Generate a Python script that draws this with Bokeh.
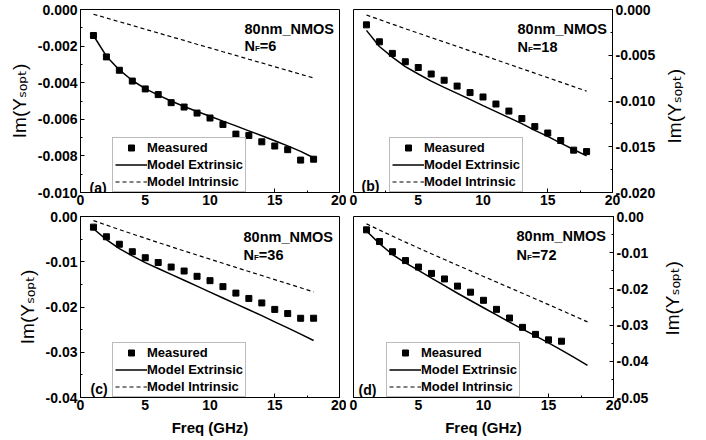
import math

from bokeh.core.properties import value
from bokeh.embed import file_html
from bokeh.layouts import column, row
from bokeh.models import (Label, Legend, LegendItem, NumeralTickFormatter,
                          Range1d, SingleIntervalTicker)
from bokeh.plotting import figure
from bokeh.resources import INLINE

FONT = "Liberation Sans"

# ---------------------------------------------------------------- data
freq = [1, 2, 3, 4, 5, 6, 7, 8, 9, 10, 11, 12, 13, 14, 15, 16, 17, 18]
freq_72 = [1, 2, 3, 4, 5, 6, 7, 8, 9, 10, 11, 12, 13, 14, 15, 16]

# NF = 6
meas_6 = [-0.00142, -0.00259, -0.00332, -0.00391, -0.00434, -0.00465,
          -0.00509, -0.00533, -0.00566, -0.00593, -0.00628, -0.00681,
          -0.00688, -0.00723, -0.00746, -0.00766, -0.00823, -0.00818]
ext_6 = [-0.00142, -0.00255, -0.00330, -0.00388, -0.00432, -0.00468,
         -0.00500, -0.00530, -0.00557, -0.00583, -0.00610, -0.00636,
         -0.00663, -0.00690, -0.00717, -0.00745, -0.00775, -0.00810]
int_6 = [-0.00026, -0.00046, -0.00067, -0.00087, -0.00108, -0.00128,
         -0.00149, -0.00169, -0.00190, -0.00210, -0.00231, -0.00251,
         -0.00272, -0.00292, -0.00313, -0.00333, -0.00354, -0.00374]

# NF = 18
meas_18 = [-0.00168, -0.00353, -0.00480, -0.00571, -0.00634, -0.00705,
           -0.00773, -0.00837, -0.00908, -0.00956, -0.01033, -0.01110,
           -0.01192, -0.01280, -0.01350, -0.01432, -0.01537, -0.01553]
ext_18 = [-0.00228, -0.00404, -0.00521, -0.00624, -0.00705, -0.00782,
          -0.00851, -0.00917, -0.00983, -0.01050, -0.01116, -0.01182,
          -0.01248, -0.01321, -0.01387, -0.01460, -0.01530, -0.01600]
int_18 = [-0.00060, -0.00110, -0.00160, -0.00210, -0.00258, -0.00307,
          -0.00355, -0.00403, -0.00452, -0.00500, -0.00549, -0.00598,
          -0.00647, -0.00696, -0.00745, -0.00794, -0.00843, -0.00892]

# NF = 36
meas_36 = [-0.00235, -0.00448, -0.00613, -0.00778, -0.00911, -0.01017,
           -0.01117, -0.01205, -0.01322, -0.01418, -0.01550, -0.01693,
           -0.01811, -0.01910, -0.02053, -0.02145, -0.02249, -0.02248]
ext_36 = [-0.0027, -0.0051, -0.0071, -0.0087, -0.0102, -0.0115,
          -0.0128, -0.0141, -0.0154, -0.0167, -0.0180, -0.0193,
          -0.0206, -0.0219, -0.0233, -0.0246, -0.0260, -0.0274]
int_36 = [-0.00090, -0.00190, -0.00288, -0.00385, -0.00480, -0.00575,
          -0.00668, -0.00760, -0.00852, -0.00943, -0.01034, -0.01125,
          -0.01215, -0.01305, -0.01395, -0.01485, -0.01575, -0.01665]

# NF = 72 (measured up to 16 GHz)
meas_72 = [-0.00369, -0.00692, -0.00973, -0.01218, -0.01397, -0.01572,
           -0.01725, -0.01923, -0.02090, -0.02315, -0.02565, -0.02805,
           -0.03062, -0.03256, -0.03408, -0.03445]
ext_72 = [-0.0040, -0.0075, -0.0105, -0.0128, -0.0149, -0.0170,
          -0.0191, -0.0212, -0.0232, -0.0252, -0.0272, -0.0292,
          -0.0311, -0.0330, -0.0349, -0.0369, -0.0390, -0.0411]
int_72 = [-0.00203, -0.00375, -0.00543, -0.00708, -0.00870, -0.01030,
          -0.01188, -0.01345, -0.01501, -0.01656, -0.01811, -0.01966,
          -0.02121, -0.02277, -0.02434, -0.02592, -0.02752, -0.02912]

device = "80nm_NMOS"
finger_counts = ["6", "18", "36", "72"]
panel_tags = ["(a)", "(b)", "(c)", "(d)"]
legend_labels = ["Measured", "Model Extrinsic", "Model Intrinsic"]
x_title = "Freq (GHz)"
y_title = "Im(Y\u209B\u2092\u209A\u209C)"

# Arial / Liberation Sans bold advance widths (per 1000 em)
BOLD_W = {"N": 722, "F": 611}
TITLE_FONT = FONT + ", DejaVu Sans"


def text_w(txt, size, table):
    return sum(table[c] for c in txt) * size / 1000.0


def add_label(p, text, x, y, size, bold=True, align="left"):
    p.add_layout(Label(x=x, y=y, x_units="screen", y_units="screen",
                       text=text, text_font=FONT, text_font_size=f"{size}px",
                       text_font_style="bold" if bold else "normal",
                       text_color="black", text_align=align,
                       text_baseline="alphabetic"))


def panel(cfg, meas_f, meas, ext, intr):
    w, h, bl, br, bt, bb = cfg["size"]
    p = figure(width=w, height=h, title=None, toolbar_location=None,
               output_backend="svg", x_range=Range1d(0, 20),
               y_range=Range1d(cfg["ymin"], 0), y_axis_location=cfg["side"],
               min_border_left=bl, min_border_right=br,
               min_border_top=bt, min_border_bottom=bb)
    p.outline_line_color = "black"
    p.outline_line_width = 1
    p.xgrid.visible = False
    p.ygrid.visible = False
    p.background_fill_color = "white"
    p.border_fill_color = "white"

    p.xaxis.ticker = SingleIntervalTicker(interval=5, num_minor_ticks=2)
    p.yaxis.ticker = SingleIntervalTicker(interval=cfg["ystep"], num_minor_ticks=2)
    p.yaxis.formatter = NumeralTickFormatter(format=cfg["yfmt"])
    for ax in (p.xaxis, p.yaxis):
        ax.axis_line_color = "black"
        ax.major_tick_line_color = "black"
        ax.minor_tick_line_color = "black"
        ax.major_tick_in = 4
        ax.major_tick_out = 0
        ax.minor_tick_in = 2
        ax.minor_tick_out = 0
        ax.major_label_text_font = FONT
        ax.major_label_text_font_style = "bold"
        ax.major_label_text_font_size = "14px"
        ax.major_label_text_color = "black"
    p.xaxis.major_label_standoff = 2
    p.yaxis.major_label_standoff = 3

    # y title on the left-hand panels goes on the axis itself
    if cfg["side"] == "left":
        yax = p.yaxis[0]
        yax.axis_label = y_title
        yax.axis_label_text_font = TITLE_FONT
        yax.axis_label_text_font_style = "normal"
        yax.axis_label_text_font_size = "19px"
        yax.axis_label_text_color = "black"
        yax.axis_label_standoff = 5

    # x title (bottom row only)
    if cfg.get("xtitle"):
        xax = p.xaxis[0]
        xax.axis_label = x_title
        xax.axis_label_text_font = FONT
        xax.axis_label_text_font_style = "bold"
        xax.axis_label_text_font_size = "15px"
        xax.axis_label_text_color = "black"
        xax.axis_label_standoff = 6

    r_int = p.line(freq, intr, line_color="black", line_width=1.2,
                   line_dash="4 3")
    r_ext = p.line(freq, ext, line_color="black", line_width=1.5)
    r_meas = p.scatter(meas_f, meas, marker="square", size=6,
                       fill_color="black", line_color="black")

    legend = Legend(
        items=[LegendItem(label=legend_labels[0], renderers=[r_meas]),
               LegendItem(label=legend_labels[1], renderers=[r_ext]),
               LegendItem(label=legend_labels[2], renderers=[r_int])],
        location=cfg["legend"], orientation="vertical",
        glyph_width=32, glyph_height=15, label_height=15, label_standoff=0,
        spacing=2, padding=2, margin=0,
        label_text_font=FONT, label_text_font_style="bold",
        label_text_font_size="13px", label_text_color="black",
        border_line_color="#777777", border_line_width=1,
        background_fill_color="white", background_fill_alpha=1.0)
    p.add_layout(legend, "center")

    # device and finger-count annotation
    tx, ty = cfg["title"]
    add_label(p, device, tx, ty, 14.5)
    nx, ny = cfg["nf"]
    add_label(p, "N", nx, ny, 14.5)
    fx = nx + text_w("N", 14.5, BOLD_W)
    add_label(p, "F", fx, ny - 3, 8)
    add_label(p, "=" + cfg["fingers"], fx + text_w("F", 8, BOLD_W), ny, 14.5)

    gx, gy = cfg["tag"]
    add_label(p, cfg["tagtext"], gx, gy, 14)
    return p


def side_title(width, height, bx, cy):
    """Narrow strip holding the right-hand y title, read bottom to top.
    Its ranges are in pixels; (bx, cy) is the baseline / centre point."""
    t = figure(width=width, height=height, title=None, toolbar_location=None,
               output_backend="svg", x_range=Range1d(0, width),
               y_range=Range1d(0, height), x_axis_location=None,
               y_axis_location=None, min_border=0)
    t.outline_line_color = None
    t.xgrid.visible = False
    t.ygrid.visible = False
    t.background_fill_color = "white"
    t.border_fill_color = "white"
    t.text(x=[bx], y=[cy], text=[y_title], angle=math.pi / 2,
           text_font=value(TITLE_FONT), text_font_size=value("19px"),
           text_font_style="normal", text_color="black",
           text_align="center", text_baseline="alphabetic")
    return t


cfg_a = dict(size=(346, 210, 80, 7, 9, 18), ymin=-0.010, ystep=0.002,
             yfmt="0.000", side="left", legend=(32, 0), title=(164, 164),
             nf=(164, 147), fingers=finger_counts[0], tag=(9, 5),
             tagtext=panel_tags[0])
cfg_b = dict(size=(312, 210, 7, 45, 9, 18), ymin=-0.020, ystep=0.005,
             yfmt="0.000", side="right", legend=(36, 0), title=(164, 164),
             nf=(164, 146), fingers=finger_counts[1], tag=(8, 7),
             tagtext=panel_tags[1])
cfg_c = dict(size=(346, 230, 80, 7, 6, 43), ymin=-0.04, ystep=0.01,
             yfmt="0.00", side="left", legend=(32, 0), title=(163, 161),
             nf=(163, 143), fingers=finger_counts[2], tag=(10, 9),
             tagtext=panel_tags[2], xtitle=True)
cfg_d = dict(size=(312, 230, 7, 45, 6, 43), ymin=-0.05, ystep=0.01,
             yfmt="0.00", side="right", legend=(33, 0), title=(163, 162),
             nf=(163, 143), fingers=finger_counts[3], tag=(5, 8),
             tagtext=panel_tags[3], xtitle=True)

pa = panel(cfg_a, freq, meas_6, ext_6, int_6)
pb = panel(cfg_b, freq, meas_18, ext_18, int_18)
pc = panel(cfg_c, freq, meas_36, ext_36, int_36)
pd = panel(cfg_d, freq_72, meas_72, ext_72, int_72)
tb = side_title(48, 210, 15.5, 99)
td = side_title(48, 230, 14, 126)

layout = column(row(pa, pb, tb), row(pc, pd, td))

with open("out.html", "w") as fh:
    fh.write(file_html(layout, INLINE))
